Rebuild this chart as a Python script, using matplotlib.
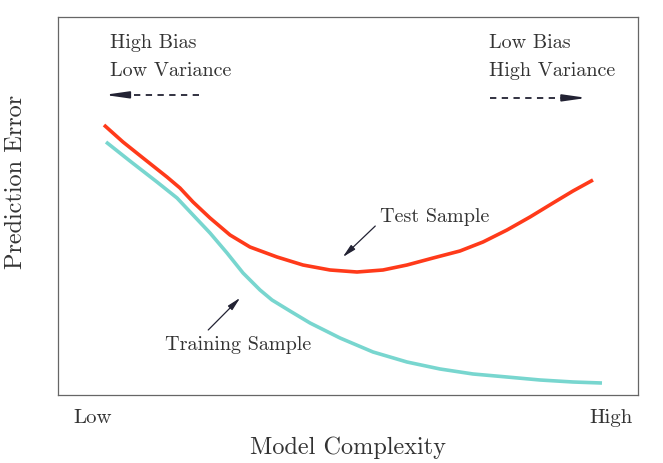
import matplotlib
matplotlib.use('Agg')
import matplotlib.pyplot as plt

plt.rcParams['font.family'] = 'serif'
plt.rcParams['font.serif'] = ['cmr10', 'DejaVu Serif']
plt.rcParams['mathtext.fontset'] = 'cm'
plt.rcParams['axes.formatter.use_mathtext'] = True

# values (complexity 0..10, error 0..10)
test_x = [0.793, 1.121, 1.466, 1.879, 2.103, 2.328, 2.621, 2.966, 3.310, 3.776,
          4.224, 4.690, 5.155, 5.603, 6.017, 6.466, 6.931, 7.328, 7.741, 8.138,
          8.534, 8.879, 9.224]
test_y = [7.143, 6.693, 6.270, 5.767, 5.476, 5.106, 4.683, 4.233, 3.915, 3.651,
          3.439, 3.307, 3.254, 3.307, 3.439, 3.624, 3.810, 4.048, 4.365, 4.709,
          5.079, 5.397, 5.688]

train_x = [0.828, 1.241, 1.707, 2.052, 2.328, 2.621, 2.914, 3.190, 3.483, 3.690,
           4.000, 4.345, 4.862, 5.431, 6.017, 6.586, 7.155, 7.741, 8.310, 8.879,
           9.379]
train_y = [6.693, 6.190, 5.635, 5.212, 4.762, 4.286, 3.757, 3.228, 2.778, 2.513,
           2.222, 1.905, 1.508, 1.138, 0.873, 0.688, 0.556, 0.476, 0.397, 0.344,
           0.317]

x_ticks = [0.60, 9.53]
x_tick_labels = ['Low', 'High']

txt = '#333333'
ink = '#222233'
red = '#ff3a1a'
teal = '#78d6cf'

fig = plt.figure(figsize=(6.63, 4.63), dpi=100)
ax = fig.add_axes([58/663, 68/463, 580/663, 378/463])
ax.set_xlim(0, 10)
ax.set_ylim(0, 10)

ax.plot(test_x, test_y, color=red, lw=2.6, solid_capstyle='butt', solid_joinstyle='round')
ax.plot(train_x, train_y, color=teal, lw=2.6, solid_capstyle='butt', solid_joinstyle='round')

for s in ax.spines.values():
    s.set_color('#666666')
    s.set_linewidth(0.9)

ax.set_yticks([])
ax.set_xticks(x_ticks)
ax.set_xticklabels(x_tick_labels, fontsize=15, color=txt)
ax.tick_params(axis='x', length=0, pad=10)
fig.text(348/663, 1 - 448/463, 'Model Complexity', fontsize=17.5, color=txt,
         ha='center', va='center')
fig.text(16/663, 1 - 182/463, 'Prediction Error', fontsize=17.5, color=txt,
         ha='center', va='center', rotation=90)

fs = 14.5


def dashed_arrow(x0, x1, y):
    # dashed shaft plus solid, narrow head
    d = 0.42 if x1 > x0 else -0.42
    ax.plot([x0, x1 - d], [y, y], color=ink, lw=1.3, ls=(0, (3.5, 3)))
    ax.annotate('', xy=(x1, y), xytext=(x1 - d, y),
                arrowprops=dict(arrowstyle='-|>,head_length=1.4,head_width=0.2',
                                color=ink, lw=1.3, shrinkA=0, shrinkB=0))


ax.text(0.90, 9.31, 'High Bias', fontsize=fs, color=txt, va='center')
ax.text(0.90, 8.57, 'Low Variance', fontsize=fs, color=txt, va='center')
dashed_arrow(2.43, 0.80, 7.94)

ax.text(7.43, 9.31, 'Low Bias', fontsize=fs, color=txt, va='center')
ax.text(7.43, 8.57, 'High Variance', fontsize=fs, color=txt, va='center')
dashed_arrow(7.45, 9.12, 7.86)

ax.text(5.55, 4.71, 'Test Sample', fontsize=fs, color=txt, va='center')
ax.annotate('', xy=(4.91, 3.65), xytext=(5.47, 4.47),
            arrowprops=dict(arrowstyle='-|>,head_length=0.8,head_width=0.18',
                            color=ink, lw=0.9, shrinkA=0, shrinkB=0))

ax.text(1.85, 1.32, 'Training Sample', fontsize=fs, color=txt, va='center')
ax.annotate('', xy=(3.14, 2.57), xytext=(2.59, 1.72),
            arrowprops=dict(arrowstyle='-|>,head_length=0.8,head_width=0.18',
                            color=ink, lw=0.9, shrinkA=0, shrinkB=0))

fig.savefig('out.png', dpi=100)
